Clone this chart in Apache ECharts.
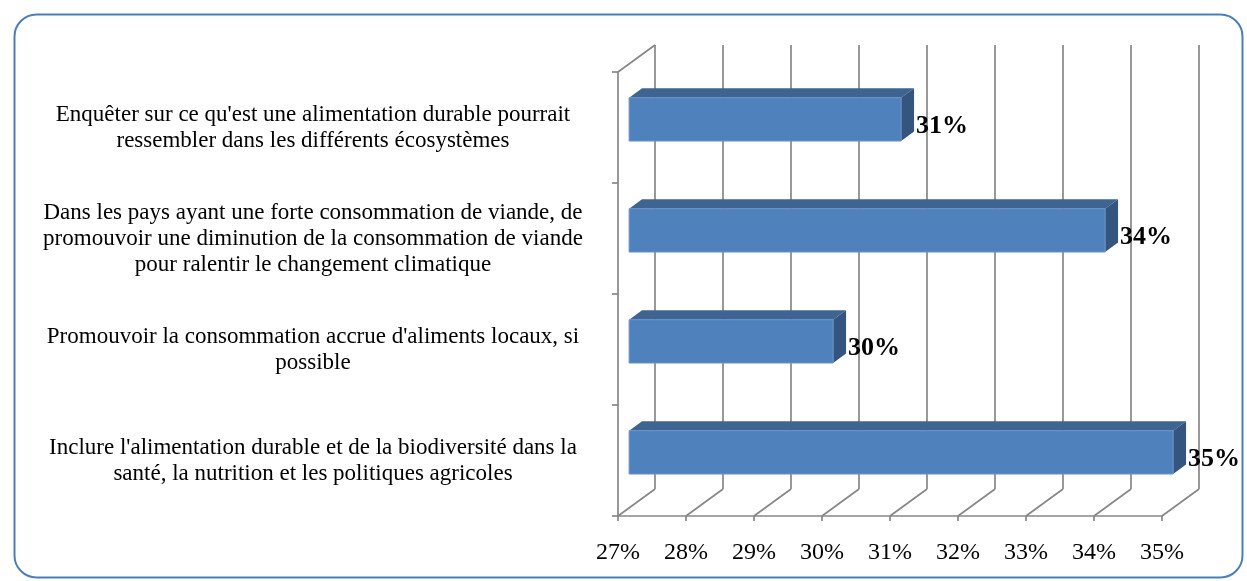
<!DOCTYPE html>
<html><head><meta charset="utf-8">
<script src="https://cdn.jsdelivr.net/npm/echarts@6/dist/echarts.min.js"></script>
<style>html,body{margin:0;padding:0;background:#fff}#c{width:1247px;height:581px}</style>
</head><body><div id="c"></div>
<script>
const categories = [
  "Enquêter sur ce qu'est une alimentation durable pourrait\nressembler dans les différents écosystèmes",
  "Dans les pays ayant une forte consommation de viande, de\npromouvoir une diminution de la consommation de viande\npour ralentir le changement climatique",
  "Promouvoir la consommation accrue d'aliments locaux, si\npossible",
  "Inclure l'alimentation durable et de la biodiversité dans la\nsanté, la nutrition et les politiques agricoles"
];
const values = [31, 34, 30, 35];
const xTicks = [27, 28, 29, 30, 31, 32, 33, 34, 35];

const X_MIN = xTicks[0], X_MAX = xTicks[xTicks.length - 1];
const DX = 37, DY = -27;          // depth offset of the back wall
const F1 = 0.3, F2 = 0.65;        // bar depth position (front/back fraction)
const BAR_FRAC = 0.39;
const GRID_COLOR = '#878787';
const SERIF = '"Liberation Serif", "Times New Roman", serif';

const chart = echarts.init(document.getElementById('c'), null, {renderer: 'canvas'});

function floorLines(params, api) {
  const cs = params.coordSys;
  const v = api.value(0);
  const x = api.coord([v, 0])[0];
  const y = cs.y + cs.height;
  const children = [{
    type: 'line',
    shape: {x1: x, y1: y, x2: x + DX, y2: y + DY},
    style: {stroke: GRID_COLOR, lineWidth: 1.7}
  }];
  if (params.dataIndex === 0) {
    children.push({
      type: 'line',
      shape: {x1: cs.x, y1: cs.y, x2: cs.x + DX, y2: cs.y + DY},
      style: {stroke: GRID_COLOR, lineWidth: 1.7}
    });
  }
  return {type: 'group', children};
}

function bar3d(params, api) {
  const v = api.value(0), i = api.value(1);
  const p = api.coord([v, i]);
  const p0 = api.coord([X_MIN, i]);
  const band = api.size([0, 1])[1];
  const h = band * BAR_FRAC;
  const x0 = p0[0] + DX * F1, x1 = p[0] + DX * F1;
  const yc = p[1] + DY * F1;
  const top = yc - h / 2;
  const ddx = DX * (F2 - F1), ddy = DY * (F2 - F1);
  return {
    type: 'group',
    children: [
      {type: 'polygon', shape: {points: [[x0, top], [x1, top], [x1 + ddx, top + ddy], [x0 + ddx, top + ddy]]},
       style: {fill: '#3e6591'}},
      {type: 'polygon', shape: {points: [[x1, top], [x1 + ddx, top + ddy], [x1 + ddx, top + ddy + h], [x1, top + h]]},
       style: {fill: '#34557e'}},
      {type: 'rect', shape: {x: x0, y: top, width: x1 - x0, height: h},
       style: {fill: '#4f81bd', stroke: '#6a95cb', lineWidth: 1}},
      {type: 'text', style: {text: v + '%', x: x1 + ddx + 2, y: yc + 7, fill: '#000',
        font: 'bold 26px ' + SERIF, align: 'left', verticalAlign: 'middle'}}
    ]
  };
}

chart.setOption({
  animation: false,
  backgroundColor: '#fff',
  graphic: [{
    type: 'rect', left: 12, top: 12, z: -10,
    shape: {width: 1228, height: 563, r: 22},
    style: {fill: 'none', stroke: '#4a7ebb', lineWidth: 2}
  }],
  grid: [
    {left: 618, top: 72, width: 544, height: 444},
    {left: 618 + DX, top: 72 + DY, width: 544, height: 444}
  ],
  xAxis: [
    {gridIndex: 0, type: 'value', min: X_MIN, max: X_MAX, interval: 1,
     axisLine: {show: true, lineStyle: {color: GRID_COLOR, width: 1.7}},
     axisTick: {show: true, length: 5, lineStyle: {color: GRID_COLOR, width: 1.7}},
     splitLine: {show: false},
     axisLabel: {formatter: '{value}%', margin: 25, color: '#000', fontSize: 24, fontFamily: SERIF}},
    {gridIndex: 1, type: 'value', min: X_MIN, max: X_MAX, interval: 1,
     axisLine: {show: false}, axisTick: {show: false}, axisLabel: {show: false},
     splitLine: {show: true, lineStyle: {color: GRID_COLOR, width: 1.7}}}
  ],
  yAxis: [
    {gridIndex: 0, type: 'category', data: categories, inverse: true,
     axisLine: {show: true, lineStyle: {color: GRID_COLOR, width: 1.7}},
     axisTick: {show: true, length: 6, alignWithLabel: false, lineStyle: {color: GRID_COLOR, width: 1.7}},
     splitLine: {show: false},
     axisLabel: {align: 'center', margin: 305, color: '#000', fontSize: 23, lineHeight: 26,
                 padding: [6, 0, 0, 0], fontFamily: SERIF}},
    {gridIndex: 1, type: 'value', show: false, splitLine: {show: false}}
  ],
  series: [
    {type: 'custom', xAxisIndex: 0, yAxisIndex: 0, z: 1, clip: false,
     renderItem: floorLines, data: xTicks.map(v => [v, 0])},
    {type: 'custom', xAxisIndex: 0, yAxisIndex: 0, z: 5, clip: false,
     renderItem: bar3d, data: values.map((v, i) => [v, i])}
  ]
});
</script>
</body></html>
